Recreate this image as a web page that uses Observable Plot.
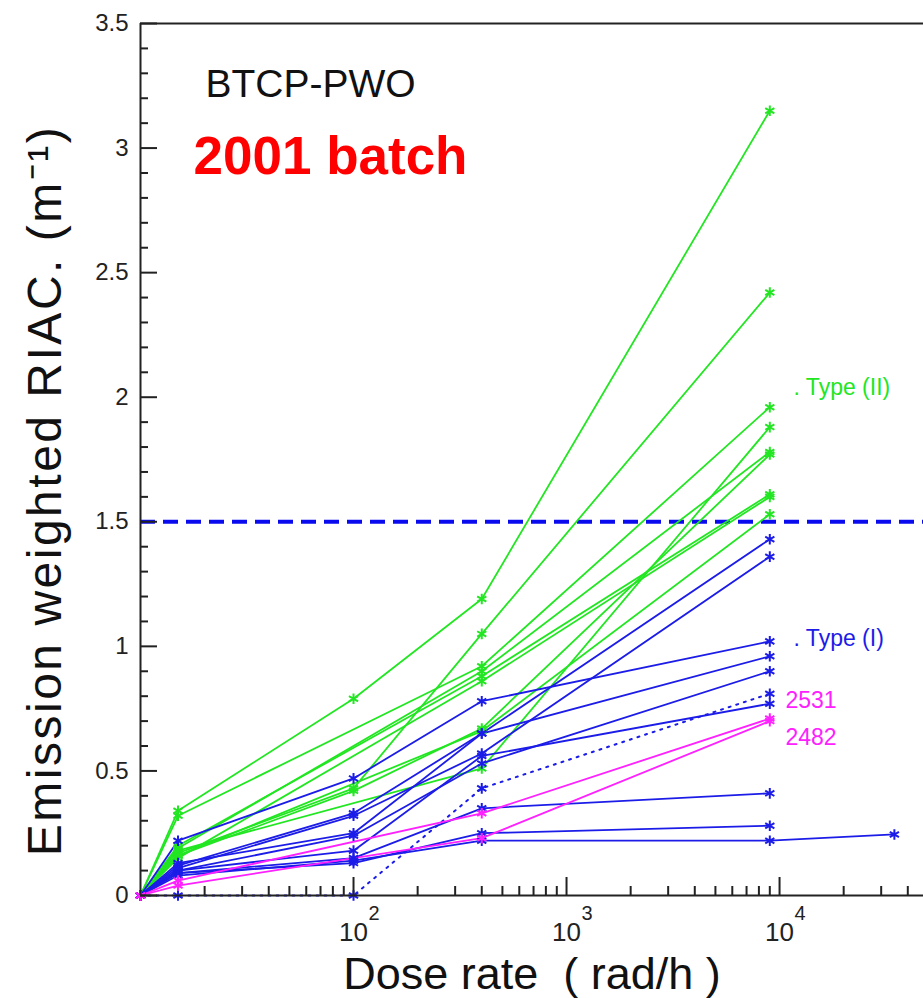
<!DOCTYPE html>
<html>
<head>
<meta charset="utf-8">
<script src="https://cdn.jsdelivr.net/npm/d3@7"></script>
<script src="https://cdn.jsdelivr.net/npm/@observablehq/plot@0.6"></script>
<style>
  body { margin: 0; background: #fff; }
  #chart svg { display: block; }
</style>
</head>
<body>
<div id="chart"></div>
<script>
// Dose rates (rad/h) at which RIAC was measured
const doseRates = [10, 15, 100, 400, 9000, 34600];

// Type (II) crystals (green)
const G1 = [0, 0.34, 0.79, 1.19, 3.15, null];
const G2 = [0, 0.17, 0.43, 1.05, 2.42, null];
const G3 = [0, 0.32, null, 0.92, 1.96, null];
const G4 = [0, 0.18, null, 0.51, 1.88, null];
const G5 = [0, 0.19, null, 0.90, 1.78, null];
const G6 = [0, 0.16, 0.42, 0.67, 1.77, null];
const G7 = [0, 0.20, null, 0.88, 1.61, null];
const G8 = [0, 0.15, null, 0.86, 1.60, null];
const G9 = [0, 0.16, null, 0.66, 1.53, null];

// Type (I) crystals (blue)
const B1 = [0, 0.22, 0.47, 0.78, 1.02, null];
const B2 = [0, 0.12, 0.33, 0.65, 1.43, null];
const B3 = [0, 0.11, 0.32, 0.57, 1.36, null];
const B4 = [0, 0.13, 0.25, 0.65, 0.96, null];
const B5 = [0, 0.10, 0.24, 0.53, 0.90, null];
const B6 = [0, 0, 0, 0.43, 0.81, null];       // dotted
const B7 = [0, 0.10, 0.18, 0.56, 0.77, null];
const B8 = [0, 0.09, 0.15, 0.35, 0.41, null];
const B9 = [0, 0.09, 0.13, 0.25, 0.28, null];
const B10 = [0, 0.08, 0.14, 0.22, 0.22, 0.245];

// Highlighted crystals (magenta)
const M2531 = [0, 0.06, null, 0.33, 0.71, null];
const M2482 = [0, 0.04, null, 0.23, 0.70, null];

const limitRIAC = [1.5];

const greenSeries = [G1, G2, G3, G4, G5, G6, G7, G8, G9];
const blueSeries = [B1, B2, B3, B4, B5, B7, B8, B9, B10];
const dottedSeries = [B6];
const magentaSeries = [M2531, M2482];

const yMajor = [0, 0.5, 1, 1.5, 2, 2.5, 3, 3.5];
const yMinor = d3.range(0, 36).filter(i => i % 5 !== 0).map(i => i / 10);
const xMajor = [100, 1000, 10000];
const xExponents = ["2", "3", "4"];
const xMinor = [20,30,40,50,60,70,80,90,200,300,400,500,600,700,800,900,2000,3000,4000,5000,6000,7000,8000,9000,20000,30000,40000];

const GREEN = "#22e622", BLUE = "#1c1ce8", MAGENTA = "#ff20ff";

function rows(list, tag) {
  const out = [];
  list.forEach((vals, s) => vals.forEach((v, i) => {
    if (v !== null) out.push({series: tag + s, dose: doseRates[i], value: v});
  }));
  return out;
}
const gRows = rows(greenSeries, "g");
const bRows = rows(blueSeries, "b");
const dRows = rows(dottedSeries, "d");
const mRows = rows(magentaSeries, "m");

const lineOpts = (stroke, extra = {}) => ({x: "dose", y: "value", z: "series", stroke, strokeWidth: 1.8, ...extra});
const dotOpts = (stroke) => ({x: "dose", y: "value", symbol: "asterisk", r: 5, stroke, strokeWidth: 2});
const note = (extra) => ({frameAnchor: "top-left", textAnchor: "start", lineAnchor: "middle", ...extra});

const plot = Plot.plot({
  width: 923,
  height: 998,
  marginLeft: 140,
  marginRight: 0,
  marginTop: 23,
  marginBottom: 103,
  style: {fontFamily: "'Liberation Sans', Arial, sans-serif", background: "#fff", color: "#111"},
  x: {type: "log", domain: [10, 47400]},
  y: {domain: [0, 3.5]},
  marks: [
    Plot.ruleY(limitRIAC, {stroke: "#0a0aee", strokeWidth: 4, strokeDasharray: "15,8"}),
    Plot.line(gRows, lineOpts(GREEN)),
    Plot.line(bRows, lineOpts(BLUE)),
    Plot.line(dRows, lineOpts(BLUE, {strokeDasharray: "2,6", strokeWidth: 2})),
    Plot.line(mRows, lineOpts(MAGENTA)),
    Plot.dot(gRows, dotOpts(GREEN)),
    Plot.dot(bRows.concat(dRows), dotOpts(BLUE)),
    Plot.dot(mRows, dotOpts(MAGENTA)),
    // frame lines
    Plot.ruleX([10], {stroke: "#222", strokeWidth: 2}),
    Plot.ruleY([0, 3.5], {stroke: "#222", strokeWidth: 2}),
    // y axis ticks (inward)
    Plot.axisY({ticks: yMinor, tickSize: -8, tickFormat: () => "", label: null, strokeWidth: 2, stroke: "#222"}),
    Plot.axisY({ticks: yMajor, tickSize: -17, tickFormat: () => "", label: null, strokeWidth: 2, stroke: "#222"}),
    Plot.axisY({ticks: yMajor, tickSize: 0, tickPadding: 12, tickFormat: d => String(d), fontSize: 24, label: null, fill: "#222"}),
    // x axis ticks (inward)
    Plot.axisX({ticks: xMinor, tickSize: -9, tickFormat: () => "", label: null, strokeWidth: 2, stroke: "#222"}),
    Plot.axisX({ticks: xMajor, tickSize: -18, tickFormat: () => "", label: null, strokeWidth: 2, stroke: "#222"}),
    // x tick labels: 10 with raised exponent
    Plot.text(xMajor, {x: d => d, text: () => "10", frameAnchor: "bottom", lineAnchor: "middle", dy: 37, fontSize: 26, fill: "#222"}),
    Plot.text(xMajor, {x: d => d, text: (d, i) => xExponents[i], frameAnchor: "bottom", textAnchor: "start", lineAnchor: "middle", dx: 15, dy: 18, fontSize: 20, fill: "#222"}),
    // axis titles
    Plot.text(["Emission weighted RIAC. (m⁻¹)"], {frameAnchor: "left", textAnchor: "middle", lineAnchor: "middle", rotate: -90, dx: -95, dy: 31, fontSize: 48, fill: "#111"}),
    Plot.text(["Dose rate\u00a0\u00a0( rad/h )"], {frameAnchor: "bottom", textAnchor: "middle", lineAnchor: "middle", dy: 79, fontSize: 45, fill: "#111"}),
    // annotations
    Plot.text(["BTCP-PWO"], note({dx: 65, dy: 61, fontSize: 39, fill: "#111"})),
    Plot.text(["2001 batch"], note({dx: 53, dy: 134, fontSize: 53, fontWeight: "bold", fill: "#ff0000"})),
    Plot.text([". Type (II)"], note({dx: 653, dy: 364, fontSize: 23, fill: GREEN})),
    Plot.text([". Type (I)"], note({dx: 653, dy: 615, fontSize: 23, fill: BLUE})),
    Plot.text(["2531"], note({dx: 645, dy: 677, fontSize: 23, fill: MAGENTA})),
    Plot.text(["2482"], note({dx: 645, dy: 714, fontSize: 23, fill: MAGENTA}))
  ]
});
// widen the rotated y title slightly to match the reference letter spacing
d3.select(plot).selectAll("text").filter(function () { return this.textContent.startsWith("Emission"); }).attr("letter-spacing", "2.5");
document.getElementById("chart").appendChild(plot);
</script>
</body>
</html>
